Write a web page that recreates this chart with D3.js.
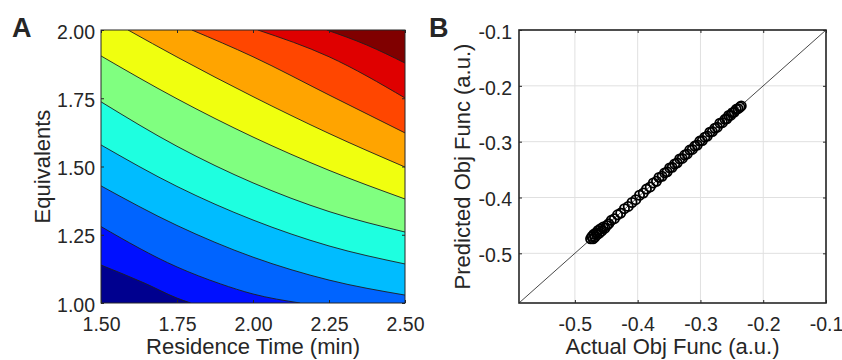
<!DOCTYPE html>
<html><head><meta charset="utf-8">
<script src="https://cdn.jsdelivr.net/npm/d3@7"></script>
<style>
body{margin:0;background:#fff;}
svg{display:block;}
text{font-family:"Liberation Sans",Arial,Helvetica,sans-serif;fill:#262626;}
</style>
</head><body>
<svg id="chart" width="842" height="360"></svg>
<script>
// ---------- Panel A data ----------
const timeTicks = [1.5, 1.75, 2.0, 2.25, 2.5];
const equivTicks = [1.0, 1.25, 1.5, 1.75, 2.0];
const bandColors = ["#00008f","#0010ff","#0064ff","#00bcff","#1effe0","#80ff80","#f0ff0f","#ffa400","#ff4600","#df0000","#800000"];
// contour boundaries [residence time, equivalents], lowest level first
const contour1 = [[1.5,1.139],[1.645,1.072],[1.75,1.018],[1.795,1.0]];
const contour2 = [[1.5,1.280],[1.75,1.132],[1.893,1.070],[2.0,1.033],[2.155,1.0]];
const contour3 = [[1.5,1.429],[1.75,1.284],[2.0,1.168],[2.25,1.084],[2.5,1.029]];
const contour4 = [[1.5,1.579],[1.75,1.427],[2.0,1.304],[2.25,1.209],[2.5,1.143]];
const contour5 = [[1.5,1.737],[1.75,1.574],[2.0,1.440],[2.25,1.335],[2.5,1.260]];
const contour6 = [[1.5,1.905],[1.75,1.748],[2.0,1.608],[2.25,1.486],[2.5,1.381]];
const contour7 = [[1.589,2.0],[1.75,1.901],[2.0,1.756],[2.25,1.621],[2.5,1.498]];
const contour8 = [[1.799,2.0],[2.0,1.902],[2.25,1.762],[2.5,1.623]];
const contour9 = [[2.016,2.0],[2.25,1.902],[2.5,1.751]];
const contour10 = [[2.243,2.0],[2.374,1.945],[2.5,1.879]];
const contourLines = [contour1,contour2,contour3,contour4,contour5,contour6,contour7,contour8,contour9,contour10];

// ---------- Panel B data ----------
const objTicks = [-0.5, -0.4, -0.3, -0.2, -0.1];
const actualObj = [-0.475,-0.473,-0.471,-0.470,-0.468,-0.466,-0.465,-0.463,-0.461,-0.459,-0.457,-0.455,-0.452,-0.449,-0.446,-0.442,-0.437,-0.432,-0.427,-0.421,-0.415,-0.409,-0.403,-0.397,-0.391,-0.386,-0.380,-0.375,-0.370,-0.366,-0.361,-0.357,-0.353,-0.349,-0.345,-0.341,-0.337,-0.333,-0.329,-0.325,-0.321,-0.317,-0.313,-0.309,-0.305,-0.301,-0.297,-0.293,-0.289,-0.285,-0.281,-0.277,-0.273,-0.269,-0.265,-0.261,-0.258,-0.255,-0.252,-0.249,-0.246,-0.243,-0.240,-0.237,-0.235];
const predictedObj = [-0.474,-0.470,-0.474,-0.466,-0.471,-0.463,-0.467,-0.459,-0.464,-0.456,-0.460,-0.453,-0.455,-0.450,-0.447,-0.441,-0.438,-0.431,-0.428,-0.420,-0.416,-0.409,-0.404,-0.396,-0.392,-0.385,-0.381,-0.374,-0.371,-0.364,-0.362,-0.356,-0.354,-0.347,-0.346,-0.340,-0.338,-0.331,-0.330,-0.324,-0.322,-0.315,-0.314,-0.308,-0.306,-0.299,-0.298,-0.292,-0.290,-0.283,-0.282,-0.276,-0.274,-0.267,-0.266,-0.260,-0.259,-0.253,-0.253,-0.248,-0.247,-0.242,-0.241,-0.238,-0.236];
const objDomain = [-0.589, -0.1];

const svg = d3.select("#chart");
const axisColor = "#262626";
const tickFont = "19.5px";
const titleFont = "22px";

// ================= Panel A =================
const A = {left:101, right:405, top:30, bottom:303};
const xA = d3.scaleLinear().domain([1.5,2.5]).range([A.left,A.right]);
const yA = d3.scaleLinear().domain([1.0,2.0]).range([A.bottom,A.top]);

svg.append("defs").append("clipPath").attr("id","clipA")
  .append("rect").attr("x",A.left).attr("y",A.top).attr("width",A.right-A.left).attr("height",A.bottom-A.top);

const gA = svg.append("g").attr("clip-path","url(#clipA)");
gA.append("rect").attr("x",A.left).attr("y",A.top).attr("width",A.right-A.left).attr("height",A.bottom-A.top)
  .attr("fill",bandColors[0]);

const lineA = d3.line().x(d=>xA(d[0])).y(d=>yA(d[1])).curve(d3.curveMonotoneX);
contourLines.forEach((pts,i)=>{
  const first = pts[0], last = pts[pts.length-1];
  const corners = [];
  if (last[1] === 1.0 && last[0] < 2.5) corners.push([2.5,1.0]);
  corners.push([2.5,2.0]);
  if (first[0] === 1.5) corners.push([1.5,2.0]);
  const d = lineA(pts) + corners.map(c=>"L"+xA(c[0])+","+yA(c[1])).join("") + "Z";
  gA.append("path").attr("d",d).attr("fill",bandColors[i+1]);
});
contourLines.forEach(pts=>{
  gA.append("path").attr("d",lineA(pts)).attr("fill","none").attr("stroke","#1e1e1e").attr("stroke-width",0.9);
});

// axes A
const axA_b = svg.append("g").attr("transform",`translate(0,${A.bottom})`)
  .call(d3.axisBottom(xA).tickValues(timeTicks).tickFormat(d3.format(".2f")).tickSizeInner(-3).tickSizeOuter(0).tickPadding(14));
const axA_l = svg.append("g").attr("transform",`translate(${A.left},0)`)
  .call(d3.axisLeft(yA).tickValues(equivTicks).tickFormat(d3.format(".2f")).tickSizeInner(-3).tickSizeOuter(0).tickPadding(6));
const axA_t = svg.append("g").attr("transform",`translate(0,${A.top})`)
  .call(d3.axisTop(xA).tickValues(timeTicks).tickFormat("").tickSizeInner(-3).tickSizeOuter(0));
const axA_r = svg.append("g").attr("transform",`translate(${A.right},0)`)
  .call(d3.axisRight(yA).tickValues(equivTicks).tickFormat("").tickSizeInner(-3).tickSizeOuter(0));
[axA_b,axA_l,axA_t,axA_r].forEach(g=>{
  g.select(".domain").remove();
  g.selectAll("line").attr("stroke",axisColor);
  g.selectAll("text").style("font-size",tickFont).attr("fill",axisColor);
});
axA_l.selectAll("text").attr("dy","0.42em");
svg.append("rect").attr("x",A.left).attr("y",A.top).attr("width",A.right-A.left).attr("height",A.bottom-A.top)
  .attr("fill","none").attr("stroke",axisColor).attr("stroke-width",1);

svg.append("text").attr("x",(A.left+A.right)/2).attr("y",354).attr("text-anchor","middle")
  .style("font-size",titleFont).text("Residence Time (min)");
svg.append("text").attr("transform",`translate(50,${(A.top+A.bottom)/2}) rotate(-90)`).attr("text-anchor","middle")
  .style("font-size",titleFont).text("Equivalents");
svg.append("text").attr("x",12).attr("y",37).style("font-size","27px").style("font-weight","bold").attr("fill","#000").text("A");

// ================= Panel B =================
const B = {left:519, right:826, top:30, bottom:303};
const xB = d3.scaleLinear().domain(objDomain).range([B.left,B.right]);
const yB = d3.scaleLinear().domain(objDomain).range([B.bottom,B.top]);

// grid
const gridB = svg.append("g");
gridB.selectAll("line.gx").data(objTicks).join("line").attr("class","gx")
  .attr("x1",d=>xB(d)).attr("x2",d=>xB(d)).attr("y1",B.top).attr("y2",B.bottom)
  .attr("stroke","#e0e0e0").attr("stroke-width",1);
gridB.selectAll("line.gy").data(objTicks).join("line").attr("class","gy")
  .attr("y1",d=>yB(d)).attr("y2",d=>yB(d)).attr("x1",B.left).attr("x2",B.right)
  .attr("stroke","#e0e0e0").attr("stroke-width",1);

// identity line
svg.append("line").attr("x1",xB(objDomain[0])).attr("y1",yB(objDomain[0]))
  .attr("x2",xB(objDomain[1])).attr("y2",yB(objDomain[1]))
  .attr("stroke","#333").attr("stroke-width",0.9);

// points
svg.append("g").selectAll("circle").data(actualObj.map((a,i)=>[a,predictedObj[i]])).join("circle")
  .attr("cx",d=>xB(d[0])).attr("cy",d=>yB(d[1])).attr("r",4.6)
  .attr("fill","none").attr("stroke","#000").attr("stroke-width",1.8);

const fmtB = d=>d.toFixed(1);
const axB_b = svg.append("g").attr("transform",`translate(0,${B.bottom})`)
  .call(d3.axisBottom(xB).tickValues(objTicks).tickFormat(fmtB).tickSizeInner(-3).tickSizeOuter(0).tickPadding(14));
const axB_l = svg.append("g").attr("transform",`translate(${B.left},0)`)
  .call(d3.axisLeft(yB).tickValues(objTicks).tickFormat(fmtB).tickSizeInner(-3).tickSizeOuter(0).tickPadding(7));
const axB_t = svg.append("g").attr("transform",`translate(0,${B.top})`)
  .call(d3.axisTop(xB).tickValues(objTicks).tickFormat("").tickSizeInner(-3).tickSizeOuter(0));
const axB_r = svg.append("g").attr("transform",`translate(${B.right},0)`)
  .call(d3.axisRight(yB).tickValues(objTicks).tickFormat("").tickSizeInner(-3).tickSizeOuter(0));
[axB_b,axB_l,axB_t,axB_r].forEach(g=>{
  g.select(".domain").remove();
  g.selectAll("line").attr("stroke",axisColor);
  g.selectAll("text").style("font-size",tickFont).attr("fill",axisColor);
});
axB_l.selectAll("text").attr("dy","0.42em");
svg.append("rect").attr("x",B.left).attr("y",B.top).attr("width",B.right-B.left).attr("height",B.bottom-B.top)
  .attr("fill","none").attr("stroke",axisColor).attr("stroke-width",1.6);

svg.append("text").attr("x",(B.left+B.right)/2).attr("y",354).attr("text-anchor","middle")
  .style("font-size",titleFont).text("Actual Obj Func (a.u.)");
svg.append("text").attr("transform",`translate(470,${(B.top+B.bottom)/2}) rotate(-90)`).attr("text-anchor","middle")
  .style("font-size",titleFont).text("Predicted Obj Func (a.u.)");
svg.append("text").attr("x",429).attr("y",37).style("font-size","27px").style("font-weight","bold").attr("fill","#000").text("B");
</script>
</body></html>
